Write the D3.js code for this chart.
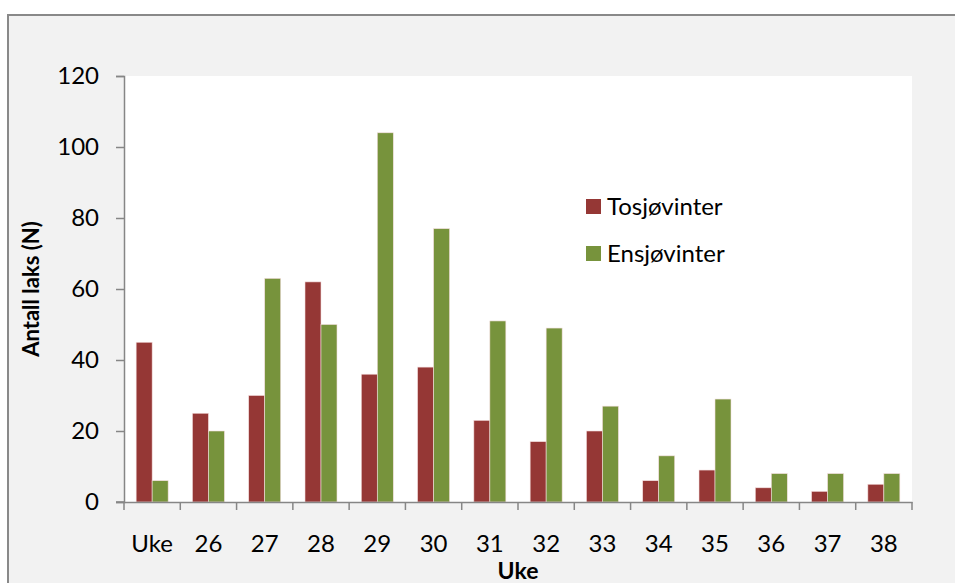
<!DOCTYPE html>
<html>
<head>
<meta charset="utf-8">
<script src="https://cdn.jsdelivr.net/npm/d3@7"></script>
<style>
  body { margin: 0; background: #fff; }
  text { font-family: Lato, 'Open Sans', sans-serif; }
</style>
</head>
<body>
<svg id="chart" width="955" height="583"></svg>
<script>
const weeks = ['Uke', '26', '27', '28', '29', '30', '31', '32', '33', '34', '35', '36', '37', '38']
const tosjovinter = [45, 25, 30, 62, 36, 38, 23, 17, 20, 6, 9, 4, 3, 5]
const ensjovinter = [6, 20, 63, 50, 104, 77, 51, 49, 27, 13, 29, 8, 8, 8]
const seriesNames = ['Tosjøvinter', 'Ensjøvinter']
const yTicks = [0, 20, 40, 60, 80, 100, 120]

const colors = ['#953735', '#77933c']
const margin = { top: 76, left: 124, right: 43, bottom: 81 }
const width = 955 - margin.left - margin.right
const height = 583 - margin.top - margin.bottom

const svg = d3.select('#chart')

// grey chart area with border on top and left
svg.append('rect')
  .attr('x', 7).attr('y', 14)
  .attr('width', 955).attr('height', 600)
  .attr('fill', '#f2f2f2')
svg.append('path')
  .attr('d', 'M8,600V15H955')
  .attr('fill', 'none')
  .attr('stroke', '#898989')
  .attr('stroke-width', 2)

const g = svg.append('g')
  .attr('transform', 'translate(' + margin.left + ',' + margin.top + ')')

g.append('rect')
  .attr('width', width).attr('height', height)
  .attr('fill', '#fff')

const x = d3.scaleBand().domain(weeks).range([0, width])
const inner = d3.scaleBand().domain(seriesNames).range([0, 32])
const y = d3.scaleLinear().domain([0, 120]).range([height, 0])

const rows = weeks.map((w, i) => ({ week: w, values: [tosjovinter[i], ensjovinter[i]] }))

g.selectAll('.group')
  .data(rows)
  .enter()
  .append('g')
  .attr('class', 'group')
  .attr('transform', d => 'translate(' + (x(d.week) + (x.bandwidth() - 32) / 2) + ',0)')
  .selectAll('rect')
  .data(d => d.values.map((v, k) => ({ name: seriesNames[k], value: v, k: k })))
  .enter()
  .append('rect')
  .attr('x', d => inner(d.name))
  .attr('y', d => y(d.value))
  .attr('width', inner.bandwidth())
  .attr('height', d => height - y(d.value))
  .attr('fill', d => colors[d.k])
  .attr('stroke', '#f4dede')
  .attr('stroke-width', 0.6)

// y axis
const yAxis = g.append('g')
  .call(d3.axisLeft(y).tickValues(yTicks).tickSize(8).tickPadding(17))
yAxis.select('.domain').attr('stroke', '#868686').attr('stroke-width', 1.5)
yAxis.selectAll('line').attr('stroke', '#868686').attr('stroke-width', 1.5)
yAxis.selectAll('text').attr('font-size', 24).attr('fill', '#000').style('font-family', 'Lato')

// x axis with ticks between categories
const xAxis = g.append('g')
  .attr('transform', 'translate(0,' + height + ')')
  .call(d3.axisBottom(x).tickSize(0).tickPadding(33))
xAxis.select('.domain').attr('stroke', '#868686').attr('stroke-width', 1.5)
xAxis.selectAll('text').attr('font-size', 24).attr('fill', '#000').style('font-family', 'Lato')
xAxis.selectAll('.sep')
  .data(weeks.concat(['end']))
  .enter()
  .append('line')
  .attr('class', 'sep')
  .attr('x1', (d, i) => i * x.step())
  .attr('x2', (d, i) => i * x.step())
  .attr('y1', 0).attr('y2', 8)
  .attr('stroke', '#868686')
  .attr('stroke-width', 1.5)
g.append('line')
  .attr('x1', -8).attr('x2', 0)
  .attr('y1', height).attr('y2', height)
  .attr('stroke', '#868686').attr('stroke-width', 1.5)

// axis titles
svg.append('text')
  .text('Antall laks (N)')
  .attr('transform', 'translate(39,' + (margin.top + height / 2) + ') rotate(-90)')
  .attr('text-anchor', 'middle')
  .attr('font-size', 22)
  .attr('font-weight', 'bold')
svg.append('text')
  .text('Uke')
  .attr('x', margin.left + width / 2)
  .attr('y', 579)
  .attr('text-anchor', 'middle')
  .attr('font-size', 23)
  .attr('font-weight', 'bold')

// legend
const legend = svg.selectAll('.legend')
  .data(seriesNames)
  .enter()
  .append('g')
  .attr('class', 'legend')
  .attr('transform', (d, i) => 'translate(586,' + (199 + i * 47) + ')')
legend.append('rect')
  .attr('width', 15).attr('height', 15)
  .attr('fill', (d, i) => colors[i])
legend.append('text')
  .text(d => d)
  .attr('x', 21).attr('y', 16)
  .attr('font-size', 24)
  .attr('fill', '#000')
</script>
</body>
</html>
